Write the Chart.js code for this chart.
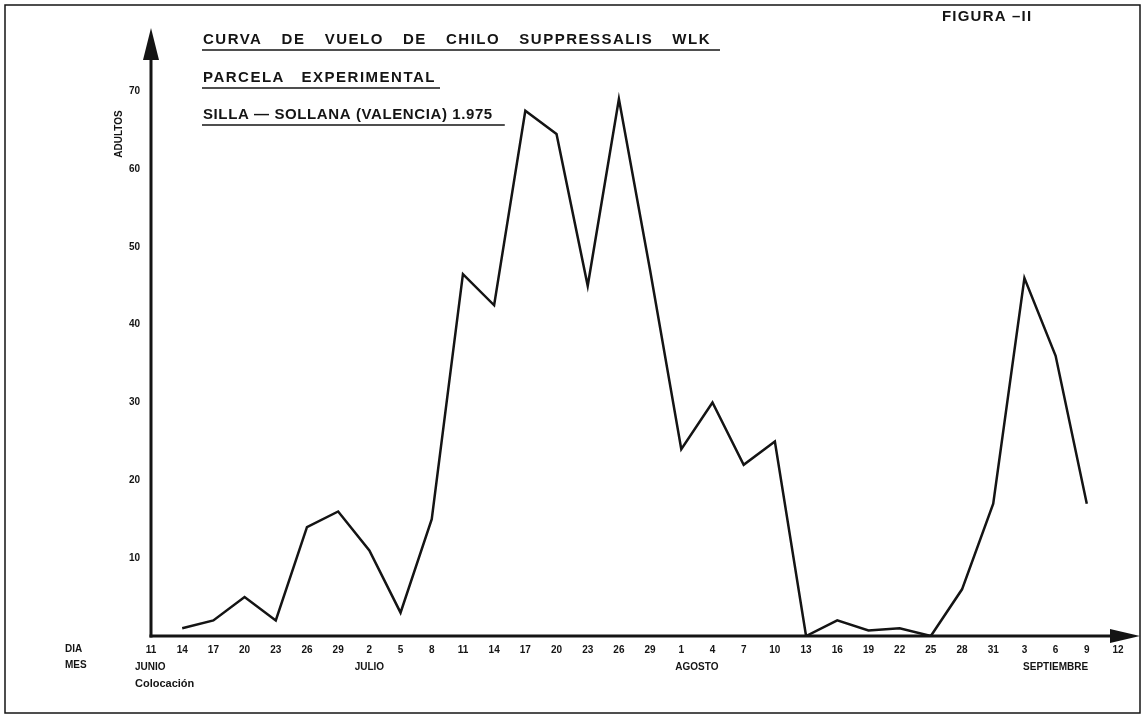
<!DOCTYPE html>
<html>
<head>
<meta charset="utf-8">
<script src="https://cdn.jsdelivr.net/npm/chart.js@4.4.0/dist/chart.umd.min.js"></script>
<style>
  html, body { margin: 0; padding: 0; background: #ffffff; }
  #wrap { width: 1143px; height: 720px; }
</style>
</head>
<body>
<div id="wrap"><canvas id="c" width="1143" height="720"></canvas></div>
<script>
// ---- data ----
const days = ["11","14","17","20","23","26","29","2","5","8","11","14","17","20","23","26","29","1","4","7","10","13","16","19","22","25","28","31","3","6","9","12"];
const adultos = [null,1,2,5,2,14,16,11,3,15,46.5,42.5,67.5,64.5,45,69,47,24,30,22,25,0,2,0.7,1,0,6,17,46,36,17,null];
const yTicks = [10,20,30,40,50,60,70];
const months = ["JUNIO","JULIO","AGOSTO","SEPTIEMBRE"];
const monthAnchor = [0, 7, 17.5, 29];      // category position of each month name
const monthAlign = ["left","center","center","center"];
const titleLines = ["CURVA DE VUELO DE CHILO SUPPRESSALIS WLK", "PARCELA EXPERIMENTAL", "SILLA \u2014 SOLLANA (VALENCIA) 1.975"];
const figLabel = "FIGURA \u2013II";
const yTitle = "ADULTOS";
const rowLabels = ["DIA", "MES"];
const noteLabel = "Colocaci\u00f3n";

const INK = "#141414";
const FONT = "'Liberation Sans', Arial, sans-serif";

const decor = {
  id: "decor",
  beforeDatasetsDraw(chart) {
    const ctx = chart.ctx, a = chart.chartArea;
    const x0 = a.left, y0 = chart.scales.y.getPixelForValue(0);
    ctx.save();
    ctx.strokeStyle = INK; ctx.fillStyle = INK;
    ctx.lineWidth = 3; ctx.lineCap = "butt";
    // y axis
    ctx.beginPath(); ctx.moveTo(x0, y0 + 1.5); ctx.lineTo(x0, a.top + 20); ctx.stroke();
    ctx.beginPath(); ctx.moveTo(x0, a.top - 1); ctx.lineTo(x0 - 8, a.top + 31); ctx.lineTo(x0 + 8, a.top + 31); ctx.closePath(); ctx.fill();
    // x axis
    const xEnd = chart.width - 3;
    ctx.beginPath(); ctx.moveTo(x0 - 1.5, y0); ctx.lineTo(xEnd - 20, y0); ctx.stroke();
    ctx.beginPath(); ctx.moveTo(xEnd, y0); ctx.lineTo(xEnd - 30, y0 - 7); ctx.lineTo(xEnd - 30, y0 + 7); ctx.closePath(); ctx.fill();
    ctx.restore();
  },
  afterDraw(chart) {
    const ctx = chart.ctx, a = chart.chartArea, xs = chart.scales.x, ys = chart.scales.y;
    ctx.save();
    ctx.fillStyle = INK; ctx.strokeStyle = INK;
    // frame
    ctx.lineWidth = 1.5;
    ctx.strokeRect(5, 5, 1135, 708);
    // title lines
    ctx.font = "bold 15px " + FONT;
    ctx.textBaseline = "middle";
    ctx.textAlign = "left";
    const tx = 203;
    const lineSpec = [
      {y: 40, end: 711, ul: 720, justify: true, ls: "1.5px"},
      {y: 78, end: 436, ul: 440, justify: true, ls: "1.5px"},
      {y: 115, end: 0, ul: 0, justify: false, ls: "0.6px"}
    ];
    titleLines.forEach((t, i) => {
      const s = lineSpec[i];
      ctx.letterSpacing = s.ls;
      let ulEnd;
      if (s.justify) {
        const words = t.split(" ");
        let wsum = 0;
        const ws = words.map(w => { const m = ctx.measureText(w).width; wsum += m; return m; });
        const gap = (s.end - tx - wsum) / (words.length - 1);
        let x = tx;
        words.forEach((w, j) => { ctx.fillText(w, x, s.y); x += ws[j] + gap; });
        ulEnd = s.ul;
      } else {
        ctx.fillText(t, tx, s.y);
        ulEnd = tx + ctx.measureText(t).width + 12;
      }
      ctx.lineWidth = 1.6;
      ctx.beginPath(); ctx.moveTo(tx - 1, s.y + 10); ctx.lineTo(ulEnd, s.y + 10); ctx.stroke();
    });
    // figure label
    ctx.font = "bold 15px " + FONT;
    ctx.letterSpacing = "1.2px";
    ctx.fillText(figLabel, 942, 17);
    ctx.letterSpacing = "0px";
    // y title
    ctx.save();
    ctx.font = "bold 10px " + FONT;
    ctx.translate(119, ys.getPixelForValue(64.5));
    ctx.rotate(-Math.PI / 2);
    ctx.textAlign = "center";
    ctx.fillText(yTitle, 0, 0);
    ctx.restore();
    // row labels
    ctx.font = "bold 10px " + FONT;
    ctx.textAlign = "left";
    const yRow = ys.getPixelForValue(0);
    ctx.fillText(rowLabels[0], 65, yRow + 13);
    ctx.fillText(rowLabels[1], 65, yRow + 29);
    months.forEach((m, i) => {
      const p = xs.getPixelForValue(0) + monthAnchor[i] * (xs.getPixelForValue(1) - xs.getPixelForValue(0));
      ctx.textAlign = monthAlign[i];
      ctx.fillText(m, monthAlign[i] === "left" ? p - 16 : p, yRow + 31);
    });
    ctx.textAlign = "left";
    ctx.font = "bold 11px " + FONT;
    ctx.fillText(noteLabel, xs.getPixelForValue(0) - 16, yRow + 48);
    ctx.restore();
  }
};

const chart = new Chart(document.getElementById("c"), {
  type: "line",
  data: {
    labels: days,
    datasets: [{
      data: adultos,
      borderColor: INK,
      borderWidth: 2.5,
      pointRadius: 0,
      tension: 0,
      fill: false,
      borderJoinStyle: "miter"
    }]
  },
  options: {
    responsive: false,
    animation: false,
    devicePixelRatio: 1,
    layout: { padding: { top: 29, right: 25, left: 0, bottom: 0 } },
    plugins: { legend: { display: false }, tooltip: { enabled: false } },
    scales: {
      x: {
        type: "category",
        offset: false,
        grid: { display: false, drawTicks: false },
        border: { display: false },
        ticks: {
          autoSkip: false, maxRotation: 0, minRotation: 0, padding: 8,
          color: INK, font: { family: FONT, size: 10, weight: "bold" }
        },
        afterFit(s) { s.height = 84; }
      },
      y: {
        min: 0, max: 78,
        grid: { display: false, drawTicks: false },
        border: { display: false },
        afterBuildTicks(s) { s.ticks = yTicks.map(v => ({ value: v })); },
        ticks: {
          padding: 11, color: INK,
          font: { family: FONT, size: 10, weight: "bold" }
        },
        afterFit(s) { s.width = 151; }
      }
    }
  },
  plugins: [decor]
});
</script>
</body>
</html>
